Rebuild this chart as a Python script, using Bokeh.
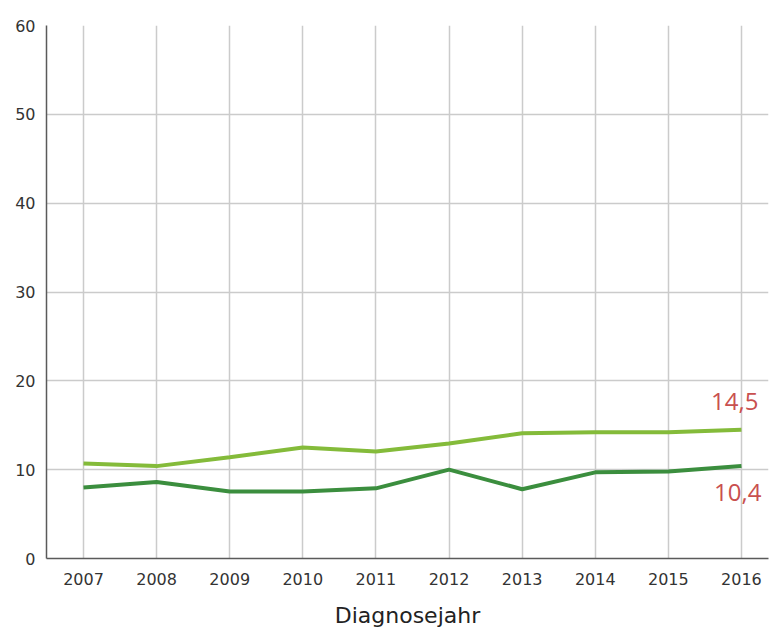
from bokeh.plotting import figure
from bokeh.models import ColumnDataSource, FixedTicker, Range1d
from bokeh.core.properties import value
from bokeh.embed import file_html
from bokeh.resources import INLINE

years = [2007, 2008, 2009, 2010, 2011, 2012, 2013, 2014, 2015, 2016]
series_light = [10.7, 10.4, 11.4, 12.5, 12.05, 12.95, 14.1, 14.2, 14.2, 14.5]
series_dark = [8.0, 8.6, 7.55, 7.55, 7.9, 10.0, 7.8, 9.7, 9.8, 10.4]
y_ticks = [0, 10, 20, 30, 40, 50, 60]
end_labels = ["14,5", "10,4"]

LIGHT = "#84bb3a"
DARK = "#3b8e3e"
GRID = "#cbcbcb"
FONT = "DejaVu Sans"

p = figure(width=770, height=631, output_backend="svg", toolbar_location=None,
           x_range=Range1d(2006.494, 2016.37), y_range=Range1d(0, 60),
           min_border_left=46, min_border_top=25, min_border_bottom=73,
           min_border_right=2)
p.outline_line_color = None
p.background_fill_color = "white"
p.border_fill_color = "white"

p.xaxis.ticker = FixedTicker(ticks=years)
p.yaxis.ticker = FixedTicker(ticks=y_ticks)
for ax in (p.xaxis, p.yaxis):
    ax.major_tick_line_color = None
    ax.minor_tick_line_color = None
    ax.axis_line_color = "#5a5a5a"
    ax.axis_line_width = 1.5
    ax.major_label_text_font = FONT
    ax.major_label_text_color = "#333333"
p.xaxis.major_label_text_font_size = "16px"
p.yaxis.major_label_text_font_size = "16px"
p.xaxis.major_label_standoff = 8
p.yaxis.major_label_standoff = 5
p.xaxis.axis_label = "Diagnosejahr"
p.xaxis.axis_label_text_font = FONT
p.xaxis.axis_label_text_font_size = "22px"
p.xaxis.axis_label_text_font_style = "normal"
p.xaxis.axis_label_text_color = "#222222"
p.xaxis.axis_label_standoff = 15

p.xgrid.grid_line_color = GRID
p.ygrid.grid_line_color = GRID
p.xgrid.grid_line_width = 1.5
p.ygrid.grid_line_width = 1.5

p.line(years, series_light, line_color=LIGHT, line_width=4)
p.line(years, series_dark, line_color=DARK, line_width=4)

lab = ColumnDataSource(dict(x=[years[-1], years[-1]],
                            y=[series_light[-1], series_dark[-1]],
                            t=end_labels,
                            xo=[17, 20],
                            yo=[-28, 26]))
p.text(x="x", y="y", text="t", source=lab, x_offset="xo", y_offset="yo",
       text_align="right", text_baseline="middle",
       text_font=value("Open Sans"), text_font_size="24px",
       text_color="#c9504f")

open("out.html", "w").write(file_html(p, INLINE))
